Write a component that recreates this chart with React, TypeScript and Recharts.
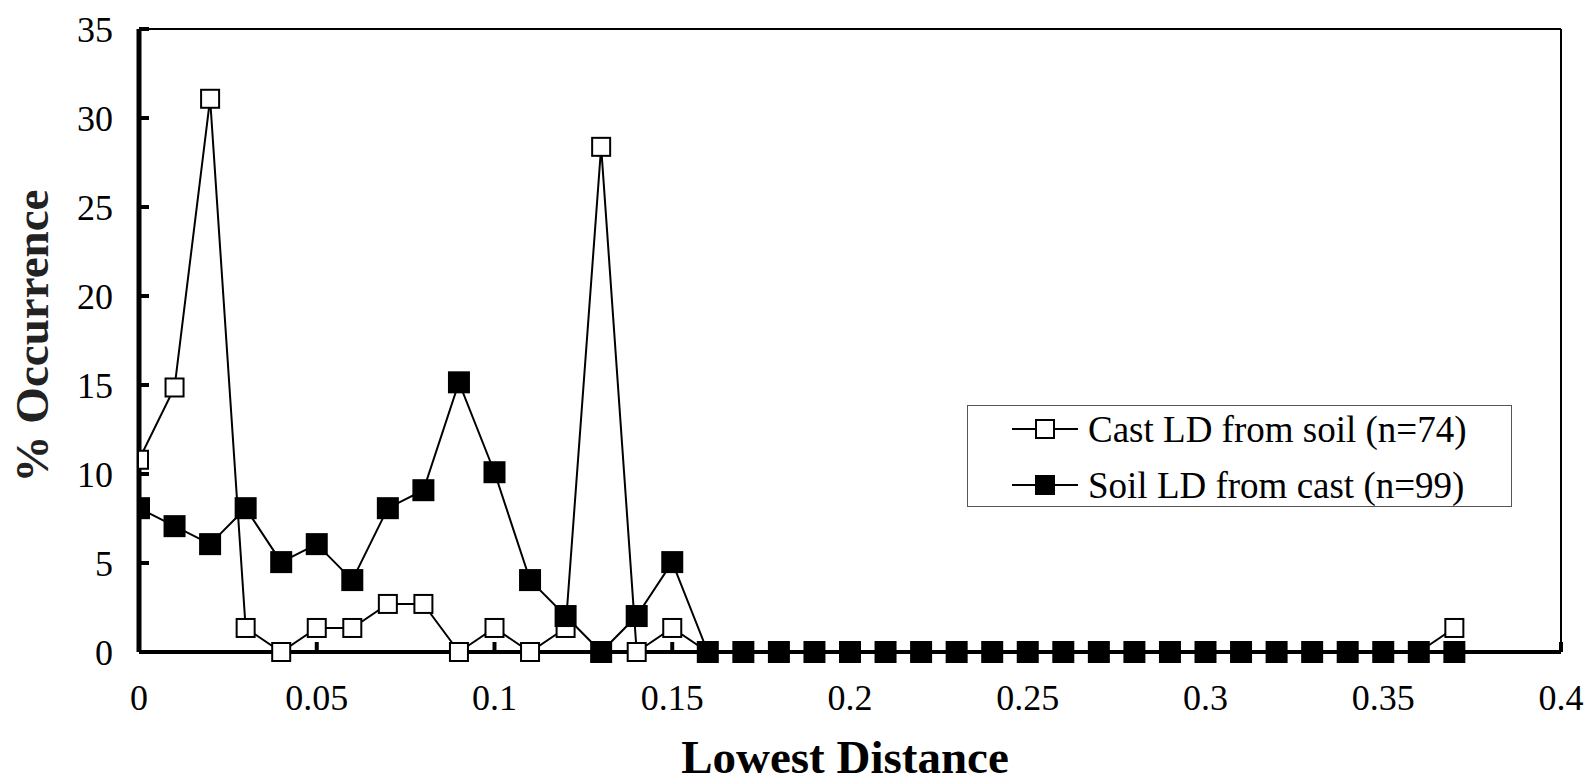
import {
  LineChart,
  Line,
  XAxis,
  YAxis,
  Legend,
  ReferenceLine,
} from "recharts";

const distances = [
  0, 0.01, 0.02, 0.03, 0.04, 0.05, 0.06, 0.07, 0.08, 0.09, 0.1, 0.11, 0.12,
  0.13, 0.14, 0.15, 0.16, 0.17, 0.18, 0.19, 0.2, 0.21, 0.22, 0.23, 0.24, 0.25,
  0.26, 0.27, 0.28, 0.29, 0.3, 0.31, 0.32, 0.33, 0.34, 0.35, 0.36, 0.37,
];

// Cast LD from soil (n=74), % occurrence
const castFromSoil = [
  10.8, 14.86, 31.08, 1.35, 0, 1.35, 1.35, 2.7, 2.7, 0, 1.35, 0, 1.35, 28.38,
  0, 1.35, 0, 0, 0, 0, 0, 0, 0, 0, 0, 0, 0, 0, 0, 0, 0, 0, 0, 0, 0, 0, 0, 1.35,
];

// Soil LD from cast (n=99), % occurrence
const soilFromCast = [
  8.08, 7.07, 6.06, 8.08, 5.05, 6.06, 4.04, 8.08, 9.09, 15.15, 10.1, 4.04,
  2.02, 0, 2.02, 5.05, 0, 0, 0, 0, 0, 0, 0, 0, 0, 0, 0, 0, 0, 0, 0, 0, 0, 0, 0,
  0, 0, 0,
];

const xTicks = [0, 0.05, 0.1, 0.15, 0.2, 0.25, 0.3, 0.35, 0.4];
const yTicks = [0, 5, 10, 15, 20, 25, 30, 35];

const seriesNames = ["Cast LD from soil (n=74)", "Soil LD from cast (n=99)"];

const data = distances.map((d, i) => ({
  d,
  cast: castFromSoil[i],
  soil: soilFromCast[i],
}));

const FONT = '"Liberation Serif", "Times New Roman", serif';

const squareDot = (filled: boolean) => (props: any) => {
  const { cx, cy, index } = props;
  if (cx == null || cy == null) return <g key={index} />;
  const s = filled ? 20 : 18;
  return (
    <rect
      key={index}
      x={cx - s / 2}
      y={cy - s / 2}
      width={s}
      height={s}
      fill={filled ? "#000" : "#fff"}
      stroke="#000"
      strokeWidth={2}
    />
  );
};

const LegendBox = () => (
  <div
    style={{
      width: 545,
      height: 102,
      border: "1.5px solid #555",
      boxSizing: "border-box",
      background: "#fff",
      paddingTop: 1,
      fontFamily: FONT,
      fontSize: 37,
      color: "#000",
      textAlign: "left",
    }}
  >
    {seriesNames.map((name, i) => (
      <div
        key={name}
        style={{
          display: "flex",
          alignItems: "center",
          height: 44,
          marginTop: i === 0 ? 0 : 12,
          paddingLeft: 44,
          whiteSpace: "nowrap",
        }}
      >
        <svg width={66} height={24} style={{ marginRight: 10, flex: "none" }}>
          <line x1={0} y1={12} x2={66} y2={12} stroke="#000" strokeWidth={2} />
          <rect
            x={24}
            y={3}
            width={18}
            height={18}
            fill={i === 1 ? "#000" : "#fff"}
            stroke="#000"
            strokeWidth={2}
          />
        </svg>
        <span>{name}</span>
      </div>
    ))}
  </div>
);

export default function App() {
  return (
    <div style={{ position: "absolute", left: 0, top: 0, background: "#fff" }}>
      <LineChart
        width={1591}
        height={784}
        data={data}
        margin={{ top: 29, right: 30, bottom: 92, left: 79 }}
      >
        <XAxis
          dataKey="d"
          type="number"
          domain={[0, 0.4]}
          ticks={xTicks}
          allowDataOverflow
          height={40}
          tickSize={-10}
          tickMargin={42}
          axisLine={{ stroke: "#000", strokeWidth: 4 }}
          tickLine={{ stroke: "#000", strokeWidth: 4 }}
          tick={{ fill: "#000", fontSize: 36, fontFamily: FONT }}
          label={{
            content: () => (
              <text
                x={845}
                y={773}
                textAnchor="middle"
                fontFamily={FONT}
                fontWeight="bold"
                fontSize={47}
                fill="#000"
              >
                Lowest Distance
              </text>
            ),
          }}
        />
        <YAxis
          type="number"
          domain={[0, 35]}
          ticks={yTicks}
          width={60}
          tickSize={-10}
          tickMargin={36}
          axisLine={{ stroke: "#000", strokeWidth: 5 }}
          tickLine={{ stroke: "#000", strokeWidth: 4 }}
          tick={{ fill: "#000", fontSize: 36, fontFamily: FONT }}
          label={{
            content: () => (
              <text
                x={48}
                y={336}
                transform="rotate(-90 48 336)"
                textAnchor="middle"
                fontFamily={FONT}
                fontWeight="bold"
                fontSize={47}
                fill="#222"
              >
                % Occurrence
              </text>
            ),
          }}
        />
        <ReferenceLine y={35} stroke="#000" strokeWidth={2} />
        <ReferenceLine x={0.4} stroke="#000" strokeWidth={2} />
        <Line
          dataKey="cast"
          name={seriesNames[0]}
          stroke="#000"
          strokeWidth={2}
          dot={squareDot(false)}
          activeDot={false}
          isAnimationActive={false}
        />
        <Line
          dataKey="soil"
          name={seriesNames[1]}
          stroke="#000"
          strokeWidth={2}
          dot={squareDot(true)}
          activeDot={false}
          isAnimationActive={false}
        />
        <Legend
          content={<LegendBox />}
          layout="vertical"
          verticalAlign="middle"
          align="center"
          wrapperStyle={{ position: "absolute", left: 967, top: 405, width: 545 }}
        />
      </LineChart>
    </div>
  );
}
